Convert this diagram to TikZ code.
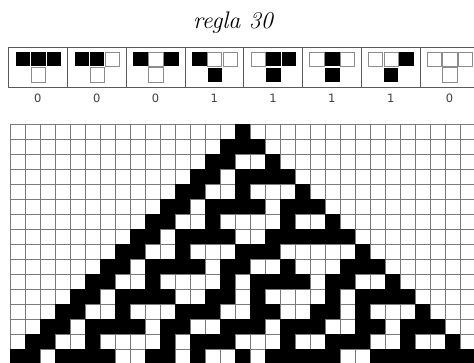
\documentclass[tikz,border=0pt]{standalone}
\usepackage{fontspec}
\newfontfamily\numfont{DejaVu Sans}
\begin{document}
\begin{tikzpicture}[x=1pt,y=-1pt,
  gridline/.style={draw=black!52,line width=0.75pt},
  oncell/.style={fill=black},
  rulebox/.style={draw=black!65,line width=0.8pt},
  mini1/.style={fill=black},
  mini0/.style={fill=white,draw=gray!90,line width=0.9pt},
  numlabel/.style={font=\numfont\fontsize{11.5}{13}\selectfont,text=black!75},
  titlelabel/.style={font=\itshape\fontsize{24}{28}\selectfont}]
\useasboundingbox (0,0) rectangle (474,363);
\clip (0,0) rectangle (474,363);
\fill[white] (0,0) rectangle (474,363);
\node[titlelabel] (title) at (233,23) {regla 30};
% rule boxes
\foreach \a/\b/\c/\o [count=\i from 0] in {1/1/1/0,1/1/0/0,1/0/1/0,1/0/0/1,0/1/1/1,0/1/0/1,0/0/1/1,0/0/0/0}{
  \pgfmathsetmacro\bx{8.5+58.8*\i}
  \draw[rulebox] (\bx,47) rectangle ++(58.8,40);
  \path[mini\a] (\bx+7.3,52) rectangle ++(14.3,14.3);
  \path[mini\b] (\bx+22.7,52) rectangle ++(14.3,14.3);
  \path[mini\c] (\bx+38.1,52) rectangle ++(14.3,14.3);
  \path[mini\o] (\bx+22.7,67.8) rectangle ++(14.3,14.3);
  \node[numlabel] (n\i) at (\bx+29.4,98) {\o};
}
% grid lines
\foreach \k in {0,...,31}{
  \draw[gridline] (10+15*\k,124) -- (10+15*\k,364);
}
\foreach \k in {0,...,16}{
  \draw[gridline] (10,124+15*\k) -- (475,124+15*\k);
}
% rule 30 evolution
\foreach \r/\cols in {
  0/{15},
  1/{14,15,16},
  2/{13,14,17},
  3/{12,13,15,16,17,18},
  4/{11,12,15,19},
  5/{10,11,13,14,15,16,18,19,20},
  6/{9,10,13,18,21},
  7/{8,9,11,12,13,14,17,18,19,20,21,22},
  8/{7,8,11,15,16,17,23},
  9/{6,7,9,10,11,12,14,15,18,22,23,24},
  10/{5,6,9,14,16,17,18,19,21,22,25},
  11/{4,5,7,8,9,10,13,14,16,21,23,24,25,26},
  12/{3,4,7,11,12,13,16,17,20,21,23,27},
  13/{2,3,5,6,7,8,10,11,14,15,16,18,19,20,23,24,26,27,28},
  14/{1,2,5,10,12,13,14,18,21,22,23,26,29},
  15/{0,1,3,4,5,6,9,10,12,15,17,18,19,20,21,24,25,26,27,28,29,30}}{
  \foreach \c in \cols {
    \fill[oncell] (10+15*\c,124+15*\r) rectangle ++(15,15);
  }
}
\end{tikzpicture}
\end{document}
